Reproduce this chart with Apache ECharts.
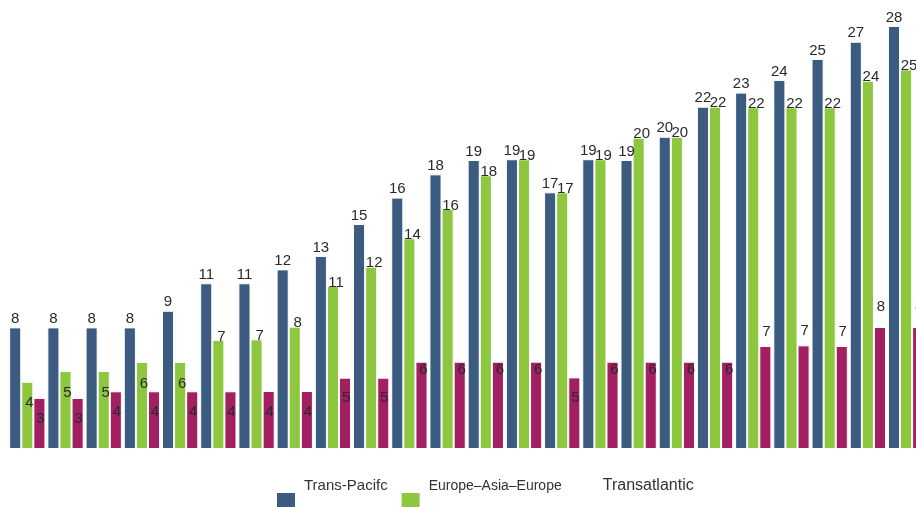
<!DOCTYPE html>
<html>
<head>
<meta charset="utf-8">
<style>
  html, body { margin: 0; padding: 0; background: #ffffff; }
  #chart { width: 916px; height: 507px; }
</style>
<script src="https://cdn.jsdelivr.net/npm/echarts@6/dist/echarts.min.js"></script>
</head>
<body>
<div id="chart"></div>
<script>
const categories = ['1','2','3','4','5','6','7','8','9','10','11','12','13','14','15','16','17','18','19','20','21','22','23','24'];

const transPacific = [8.05, 8.05, 8.05, 8.05, 9.15, 10.97, 10.97, 11.89, 12.78, 14.89, 16.64, 18.18, 19.13, 19.18, 16.99, 19.18, 19.13, 20.67, 22.66, 23.59, 24.43, 25.82, 26.96, 28.0];
const transPacificLabels = ['8','8','8','8','9','11','11','12','13','15','16','18','19','19','17','19','19','20','22','23','24','25','27','28'];

const europeAsia = [4.45, 5.16, 5.16, 5.76, 5.76, 7.22, 7.26, 8.10, 10.79, 12.07, 13.95, 15.89, 18.12, 19.18, 16.99, 19.18, 20.61, 20.67, 22.66, 22.62, 22.62, 22.62, 24.38, 25.13];
const europeAsiaLabels = ['4','5','5','6','6','7','7','8','11','12','14','16','18','19','17','19','20','20','22','22','22','22','24','25'];

const transatlantic = [3.38, 3.38, 3.82, 3.82, 3.82, 3.82, 3.84, 3.84, 4.72, 4.72, 5.78, 5.78, 5.78, 5.78, 4.74, 5.78, 5.78, 5.78, 5.78, 6.82, 6.86, 6.82, 8.08, 8.08];
const transatlanticLabels = ['3','3','4','4','4','4','4','4','5','5','6','6','6','6','5','6','6','6','6','7','7','7','8','8'];

const seriesNames = ['Trans-Pacifc', 'Europe\u2013Asia\u2013Europe', 'Transatlantic'];

const chart = echarts.init(document.getElementById('chart'), null, { renderer: 'canvas' });

function items(vals, labels, rule) {
  return vals.map(function (v, i) {
    return { value: v, label: Object.assign({ formatter: labels[i] }, rule(v)) };
  });
}

const labelBase = {
  show: true,
  fontFamily: 'Liberation Sans, Arial, sans-serif',
  fontSize: 15,
  color: '#2a2a2a'
};

const markerPath = 'path://M0,0 M22,0 M0,28 L18,28 L18,42 L0,42 Z';

chart.setOption({
  animation: false,
  backgroundColor: '#ffffff',
  grid: { left: 8.2, width: 917, top: 26, bottom: 58, containLabel: false, outerBoundsMode: 'none' },
  xAxis: {
    type: 'category',
    data: categories,
    show: false
  },
  yAxis: {
    type: 'value',
    min: 0,
    max: 28,
    show: false,
    splitLine: { show: false }
  },
  legend: {
    left: 277,
    top: 465,
    padding: 0,
    itemWidth: 22,
    itemHeight: 42,
    itemGap: 14,
    itemStyle: { borderWidth: 0 },
    textStyle: { fontFamily: 'Liberation Sans, Arial, sans-serif', fontSize: 15, color: '#333333' },
    data: [
      { name: seriesNames[0], icon: markerPath },
      { name: seriesNames[1], icon: markerPath, textStyle: { fontSize: 14 } },
      { name: seriesNames[2], icon: markerPath, itemStyle: { opacity: 0 }, textStyle: { fontSize: 16 } }
    ]
  },
  series: [
    {
      name: seriesNames[0],
      type: 'bar',
      barGap: '0%',
      barCategoryGap: '5%',
      itemStyle: { color: '#3b5b80', borderColor: '#ffffff', borderWidth: 1 },
      label: labelBase,
      data: items(transPacific, transPacificLabels, function () {
        return { position: 'top', distance: 1 };
      })
    },
    {
      name: seriesNames[1],
      type: 'bar',
      barGap: '0%',
      barCategoryGap: '5%',
      itemStyle: { color: '#8dc63f', borderColor: '#ffffff', borderWidth: 1 },
      label: labelBase,
      data: items(europeAsia, europeAsiaLabels, function (v) {
        return v < 6.5
          ? { position: 'insideTop', distance: 14, offset: [2, 0] }
          : { position: 'top', distance: -4, offset: [3, 0] };
      })
    },
    {
      name: seriesNames[2],
      type: 'bar',
      barGap: '0%',
      barCategoryGap: '5%',
      itemStyle: { color: '#a21f61', borderColor: '#ffffff', borderWidth: 1 },
      label: labelBase,
      data: items(transatlantic, transatlanticLabels, function (v) {
        if (v >= 6.5) return { position: 'top', distance: v >= 7.5 ? 13 : 7, offset: [1, 0] };
        if (v >= 5.5) return { position: 'insideTop', distance: 1, offset: [2, 0] };
        return { position: 'insideTop', distance: 13, offset: [1, 0] };
      })
    }
  ]
});
</script>
</body>
</html>
